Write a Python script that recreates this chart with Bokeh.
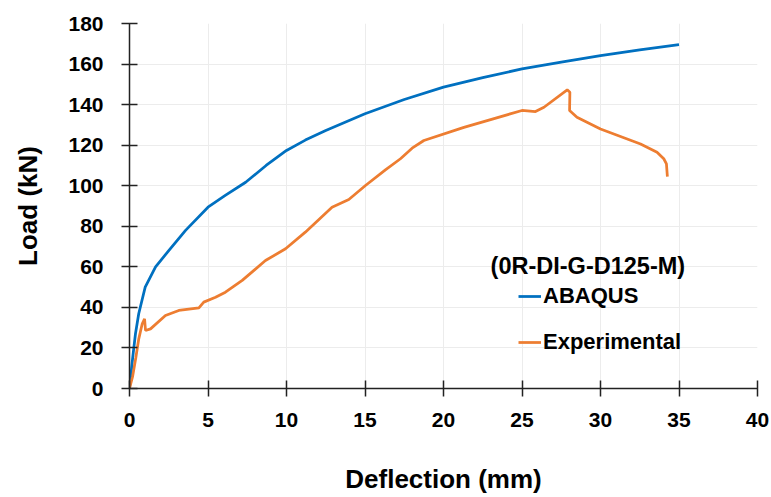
from bokeh.plotting import figure
from bokeh.models import Range1d, FixedTicker, Legend, LegendItem, Label
from bokeh.embed import file_html
from bokeh.resources import INLINE

# ---- data ----
abaqus_x = [0, 0.2, 0.38, 0.59, 1.0, 1.66, 2.5, 3.57, 5.0, 6.1, 7.4, 8.7, 10.0, 11.2, 12.5,
            15.0, 17.5, 20.0, 22.5, 25.0, 27.5, 30.0, 32.5, 35.0]
abaqus_y = [0, 15, 27, 37, 50, 60, 68, 78, 89.4, 95.2, 101.7, 110.0, 117.4, 122.5, 127.2,
            135.5, 142.5, 148.6, 153.3, 157.6, 161.0, 164.2, 167.0, 169.6]

exp_x = [0, 0.2, 0.4, 0.59, 0.81, 0.96, 1.02, 1.34, 2.29, 3.14, 4.42, 4.73, 5.48, 6.11,
         7.18, 8.66, 9.94, 11.2, 12.9, 13.97, 15.03, 16.3, 17.26, 18.0, 18.75, 21.3,
         25.0, 25.86, 26.4, 27.88, 28.05, 28.03, 28.5, 30.0, 32.55, 33.6, 34.03, 34.2, 34.26]
exp_y = [0, 6, 15, 24.5, 31.9, 34.4, 28.6, 29.4, 36.0, 38.5, 39.8, 42.6, 45.0, 47.5,
         53.3, 63.1, 68.9, 77.1, 89.4, 93.2, 100.1, 107.8, 113.3, 118.5, 122.3, 128.8,
         137.1, 136.6, 138.7, 147.3, 146.1, 137.1, 133.8, 128.0, 120.6, 116.5, 113.3, 110.8, 104.5]

x_ticks = [0, 5, 10, 15, 20, 25, 30, 35, 40]
y_ticks = [0, 20, 40, 60, 80, 100, 120, 140, 160, 180]

series_names = ["ABAQUS", "Experimental"]
legend_title = "(0R-DI-G-D125-M)"
x_title = "Deflection (mm)"
y_title = "Load (kN)"

FONT = "Liberation Sans"
BLUE = "#0070C0"
ORANGE = "#ED7D31"

p = figure(width=771, height=497, output_backend="svg", toolbar_location=None,
           x_range=Range1d(0, 40), y_range=Range1d(0, 180),
           min_border_left=129, min_border_right=14, min_border_top=23, min_border_bottom=109)
p.outline_line_color = None
p.background_fill_color = "white"
p.border_fill_color = "white"

r1 = p.line(abaqus_x, abaqus_y, line_color=BLUE, line_width=2.75)
r2 = p.line(exp_x, exp_y, line_color=ORANGE, line_width=2.75)

for ax in (p.xaxis[0], p.yaxis[0]):
    ax.axis_line_color = "#222222"
    ax.axis_line_width = 1.5
    ax.major_tick_line_color = "#222222"
    ax.major_tick_line_width = 1.5
    ax.major_tick_in = 8
    ax.major_tick_out = 8
    ax.minor_tick_line_color = None
    ax.major_label_text_font = FONT
    ax.major_label_text_font_style = "bold"
    ax.major_label_text_font_size = "21px"
    ax.major_label_text_color = "black"
    ax.axis_label_text_font = FONT
    ax.axis_label_text_font_style = "bold"
    ax.axis_label_text_font_size = "26px"
    ax.axis_label_text_color = "black"

p.xaxis.ticker = FixedTicker(ticks=x_ticks)
p.yaxis.ticker = FixedTicker(ticks=y_ticks)
p.xaxis.axis_label = x_title
p.yaxis.axis_label = y_title
p.xaxis.major_label_standoff = 16
p.yaxis.major_label_standoff = 18
p.xaxis.axis_label_standoff = 34
p.yaxis.axis_label_standoff = 22

p.xgrid.ticker = FixedTicker(ticks=x_ticks)
p.ygrid.ticker = FixedTicker(ticks=y_ticks)
p.xgrid.grid_line_color = "#ececec"
p.ygrid.grid_line_color = "#ececec"
p.xgrid.grid_line_width = 1
p.ygrid.grid_line_width = 1

legend = Legend(items=[LegendItem(label=series_names[0], renderers=[r1]),
                       LegendItem(label=series_names[1], renderers=[r2])],
                location=(389, 33), padding=0, margin=0, spacing=20,
                glyph_width=23, glyph_height=26, label_height=26, label_standoff=2,
                border_line_color=None, background_fill_alpha=0)
legend.label_text_font = FONT
legend.label_text_font_style = "bold"
legend.label_text_font_size = "22px"
legend.label_text_color = "black"
p.add_layout(legend, "center")

title = Label(x=23.0, y=60.6, text=legend_title, text_font=FONT, text_font_style="bold",
              text_font_size="23.5px", text_baseline="middle", text_align="left",
              text_color="black")
p.add_layout(title)

open("out.html", "w").write(file_html(p, INLINE))
